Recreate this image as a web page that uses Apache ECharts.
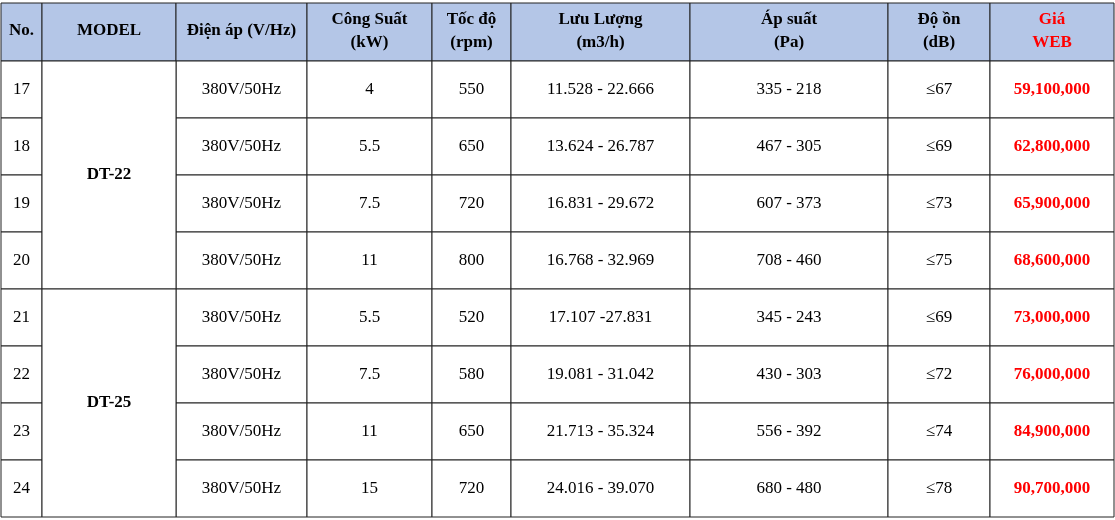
<!DOCTYPE html>
<html><head><meta charset="utf-8">
<script src="https://cdn.jsdelivr.net/npm/echarts@6/dist/echarts.min.js"></script>
<style>html,body{margin:0;padding:0;background:#fff}#c{width:1115px;height:520px}</style>
</head><body><div id="c"></div>
<script>
const headers = ['No.', 'MODEL', 'Điện áp (V/Hz)', 'Công Suất\n(kW)', 'Tốc độ\n(rpm)', 'Lưu Lượng\n(m3/h)', 'Áp suất\n(Pa)', 'Độ ồn\n(dB)', 'Giá\nWEB'];
const nos = ['17', '18', '19', '20', '21', '22', '23', '24'];
const models = ['DT-22', 'DT-25'];
const voltage = ['380V/50Hz', '380V/50Hz', '380V/50Hz', '380V/50Hz', '380V/50Hz', '380V/50Hz', '380V/50Hz', '380V/50Hz'];
const power = ['4', '5.5', '7.5', '11', '5.5', '7.5', '11', '15'];
const speed = ['550', '650', '720', '800', '520', '580', '650', '720'];
const flow = ['11.528 - 22.666', '13.624 - 26.787', '16.831 - 29.672', '16.768 - 32.969', '17.107 -27.831', '19.081 - 31.042', '21.713 - 35.324', '24.016 - 39.070'];
const pressure = ['335 - 218', '467 - 305', '607 - 373', '708 - 460', '345 - 243', '430 - 303', '556 - 392', '680 - 480'];
const noise = ['≤67', '≤69', '≤73', '≤75', '≤69', '≤72', '≤74', '≤78'];
const price = ['59,100,000', '62,800,000', '65,900,000', '68,600,000', '73,000,000', '76,000,000', '84,900,000', '90,700,000'];

// layout of the grid
const colEdges = [1, 42, 176, 307, 432, 511, 690, 888, 990, 1114];
const rowEdges = [3, 61, 118, 175, 232, 289, 346, 403, 460, 517, 575];

const cells = [];
headers.forEach((h, c) => cells.push([c, c + 1, 0, 1, h, c === 8 ? 'hred' : 'head']));
for (let r = 0; r < nos.length; r++) {
  const cols = [nos[r], null, voltage[r], power[r], speed[r], flow[r], pressure[r], noise[r], price[r]];
  cols.forEach((t, c) => {
    if (t !== null) cells.push([c, c + 1, r + 1, r + 2, t, c === 8 ? 'red' : 'body']);
  });
}
models.forEach((m, i) => cells.push([1, 2, 1 + i * 4, 5 + i * 4, m, 'model']));

const chart = echarts.init(document.getElementById('c'));
chart.setOption({
  animation: false,
  grid: {left: 0, right: 0, top: 0, bottom: 0},
  xAxis: {type: 'value', min: 0, max: 1115, show: false},
  yAxis: {type: 'value', min: 0, max: 520, inverse: true, show: false},
  series: [{
    type: 'custom',
    data: cells,
    renderItem: function (params, api) {
      const d = cells[params.dataIndex];
      const p0 = api.coord([colEdges[d[0]], rowEdges[d[2]]]);
      const p1 = api.coord([colEdges[d[1]], rowEdges[d[3]]]);
      const head = d[5] === 'head' || d[5] === 'hred';
      const red = d[5] === 'red' || d[5] === 'hred';
      const bold = head || red || d[5] === 'model';
      return {
        type: 'group',
        children: [{
          type: 'rect',
          shape: {x: p0[0], y: p0[1], width: p1[0] - p0[0], height: p1[1] - p0[1]},
          style: {fill: head ? '#b4c6e7' : '#fff', stroke: '#222', lineWidth: 1}
        }, {
          type: 'text',
          style: {
            x: (p0[0] + p1[0]) / 2, y: (p0[1] + p1[1]) / 2 - (head ? 1 : 0),
            text: d[4], align: 'center', verticalAlign: 'middle',
            fill: red ? '#ff0000' : '#000',
            font: (bold ? 'bold ' : '') + '17px "Liberation Serif", serif',
            lineHeight: 23
          }
        }]
      };
    }
  }]
});
</script>
</body></html>
